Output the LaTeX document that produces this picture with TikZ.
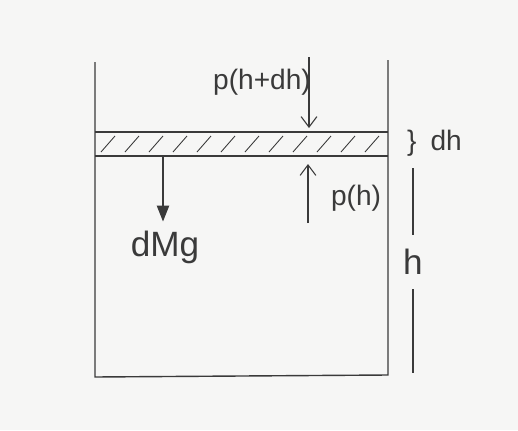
\documentclass[tikz,border=0pt]{standalone}
\usepackage{fontspec}
\setmainfont{Liberation Sans}
\usetikzlibrary{arrows.meta}
\definecolor{PencilGray}{HTML}{3A3A3A}
\definecolor{PaperWhite}{HTML}{F6F6F5}

\tikzset{
    wall/.style={line width=0.8pt},
    hatchline/.style={line width=0.5pt},
    forcelabel/.style={font=\fontsize{16}{16}\selectfont, inner sep=1pt},
    force/.style={->, line width=0.6pt},
}

\begin{document}
\begin{tikzpicture}[x=0.02cm, y=-0.02cm, >={Straight Barb[length=6pt,width=9pt]}, PencilGray]
    \fill[PaperWhite] (0,0) rectangle (518,430);
    \useasboundingbox (0,0) rectangle (518,430);

    % ========== CONTAINER ==========
    \draw[wall] (95,62) -- (95,377) -- (388,375) -- (388,60);

    % Slab of thickness dh
    \draw[wall] (95,132) -- (388,132);
    \draw[wall] (95,156) -- (388,156);
    \foreach \x in {101,125,...,365}
        \draw[hatchline] (\x,152) -- ++(14,-16);

    % ========== FORCES ==========
    % pressure from above
    \node[forcelabel] (ptop) at (262,82) {p(h+dh)};
    \coordinate (ptopstart) at (309,57);
    \coordinate (ptoptip) at (309,128);
    \draw[force] (ptopstart) -- (ptoptip);

    % pressure from below
    \node[forcelabel, anchor=west] (pbot) at (329,198) {p(h)};
    \coordinate (pbotstart) at (308,223);
    \coordinate (pbottip) at (308,164);
    \draw[force] (pbotstart) -- (pbottip);

    % weight of the slab
    \node[forcelabel, font=\fontsize{20}{20}\selectfont] (weight) at (165,247) {dMg};
    \coordinate (wstart) at (163,156);
    \draw[force, -{Triangle[length=9pt,width=7pt]}] (wstart) -- ([yshift=4pt]weight.north -| wstart);

    % ========== DIMENSIONS ==========
    \node[forcelabel, anchor=west] (dhlabel) at (405,143) {\}\hspace{8pt}dh};

    \node[forcelabel, font=\fontsize{20}{20}\selectfont, inner sep=8pt] (hlabel) at (413,262) {h};
    \coordinate (htop) at (413,168);
    \coordinate (hbot) at (413,373);
    \draw[line width=0.6pt] (htop) -- (hlabel);
    \draw[line width=0.6pt] (hlabel) -- (hbot);

\end{tikzpicture}
\end{document}
